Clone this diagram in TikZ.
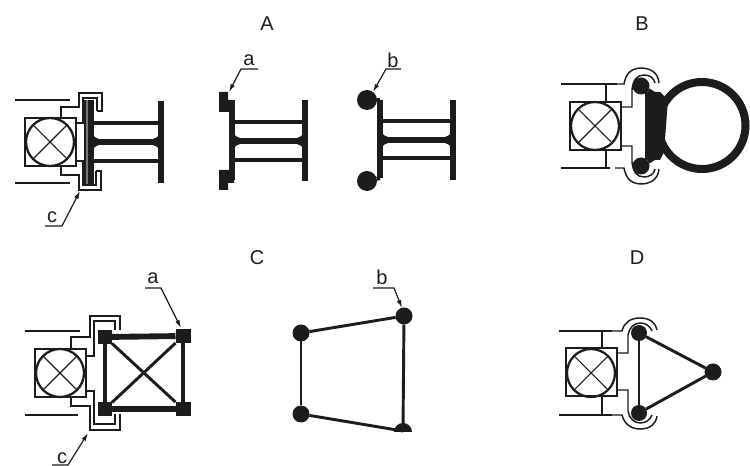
\documentclass[tikz,border=0pt]{standalone}
\usepackage{fontspec}
\setmainfont{Liberation Sans}
\usetikzlibrary{arrows.meta}
\definecolor{ink}{HTML}{1C1C1C}
\tikzset{
  every node/.style={inner sep=0pt,outer sep=0pt},
  px/.style={x=0.75pt,y=-0.75pt},
  thin line/.style={draw=ink,line width=1.1pt},
  hair/.style={draw=ink,line width=0.8pt},
  rail/.style={draw=ink,line width=1.6pt},
  web/.style={draw=ink,line width=2.4pt},
  webthick/.style={draw=ink,line width=4.8pt},
  flange/.style={draw=ink,line width=5pt},
  plate/.style={draw=ink,line width=4.6pt},
  bar/.style={draw=ink,line width=2.2pt},
  arrowleader/.style={draw=ink,line width=0.9pt,-{Latex[length=6pt,width=3.5pt]}},
  ttl/.style={font=\fontsize{15}{15}\selectfont,text=ink},
  tag/.style={font=\fontsize{15}{15}\selectfont,text=ink},
  dot/.style={circle,fill=ink,minimum size=#1*0.75pt},
  sq/.style={rectangle,fill=ink,minimum size=14*0.75pt},
  boxn/.style={rectangle,draw=ink,line width=1.5pt,minimum width=51*0.75pt,minimum height=48*0.75pt},
  bearing/.style={circle,draw=ink,line width=1.7pt,minimum size=48*0.75pt}
}
\newcommand{\crosscircle}[1]{%
  \draw[hair] (#1.45) -- (#1.225) (#1.135) -- (#1.315);
}
% fillets of the thick web at its two ends: left x, right x, web y
\newcommand{\fillets}[3]{%
  \fill[ink] (#1,#3-7) .. controls (#1+1,#3-5) and (#1+3,#3-4) .. (#1+6,#3-3) -- (#1+6,#3+3) .. controls (#1+3,#3+4) and (#1+1,#3+5) .. (#1,#3+7) -- cycle;
  \fill[ink] (#2,#3-7) .. controls (#2-1,#3-5) and (#2-3,#3-4) .. (#2-6,#3-3) -- (#2-6,#3+3) .. controls (#2-3,#3+4) and (#2-1,#3+5) .. (#2,#3+7) -- cycle;
}
\begin{document}
\begin{tikzpicture}[px]
\useasboundingbox (0,0) rectangle (750,466);
% titles
\node[ttl] (ta) at (267,24) {A};
\node[ttl] (tb) at (642,24) {B};
\node[ttl] (tc) at (257,258) {C};
\node[ttl] (td) at (637,258) {D};

% ---------- A left
\draw[rail] (15,100) -- (70,100) (15,183) -- (70,183);
\node[boxn] (b1) at (50.5,142) {};
\node[bearing] (c1) at (50,142) {};
\crosscircle{c1}
\draw[thin line] (61,118) -- (61,107) -- (79,107) -- (79,93) -- (102,93) -- (102,111) -- (97,111);
\draw[thin line] (76,123) -- (83,123) -- (83,98) -- (97,98) -- (97,111);
\draw[thin line] (61,166) -- (61,175) -- (79,175) -- (79,190) -- (101,190) -- (101,171) -- (96,171);
\draw[thin line] (76,161) -- (83,161) -- (83,185) -- (96,185) -- (96,171);
\fill[ink!60] (85,100) rectangle (93,184);
\draw[plate] (91,100) -- (91,184);
\draw[thin line] (85,100) -- (85,184);
\draw[flange] (161,101) -- (161,183);
\draw[web] (92,123) -- (161,123) (92,161) -- (161,161);
\draw[webthick] (92,142) -- (161,142);
\fillets{93}{159}{142}
\node[tag] (lc1) at (52,217) {c};
\coordinate (lc1a) at (45,226);
\coordinate (lc1b) at (62,226);
\coordinate (lc1c) at (80,191);
\draw[arrowleader] (lc1a) -- (lc1b) -- (lc1c);

% ---------- A middle
\draw[plate] (232,100) -- (232,180);
\fill[ink] (219,92) rectangle (228,112) (219,170) rectangle (228,190);
\fill[ink] (228,100) rectangle (234,112) (228,170) rectangle (234,183);
\draw[flange] (305,100) -- (305,181);
\draw[web] (232,122) -- (305,122) (232,160) -- (305,160);
\draw[webthick] (232,141) -- (305,141);
\fillets{234}{303}{141}
\node[tag] (la) at (249,60) {a};
\coordinate (laa) at (258,69);
\coordinate (lab) at (241,69);
\coordinate (lac) at (229,92);
\draw[arrowleader] (laa) -- (lab) -- (lac);

% ---------- A right
\draw[plate] (380,100) -- (380,178);
\node[dot=20] (d1) at (367,100) {};
\node[dot=20] (d2) at (367,181) {};
\draw[draw=ink,line width=3pt] (d1) -- (380,100);
\draw[draw=ink,line width=3pt] (d2) -- (380,178);
\draw[flange] (453,100) -- (453,180);
\draw[web] (380,121) -- (453,121) (380,158) -- (453,158);
\draw[webthick] (380,140) -- (453,140);
\fillets{382}{451}{140}
\node[tag] (lb) at (393,60) {b};
\coordinate (lba) at (401,69);
\coordinate (lbb) at (386,69);
\coordinate (lbc) at (373,92);
\draw[arrowleader] (lba) -- (lbb) -- (lbc);

% ---------- B
\draw[rail] (561,84) -- (617,84) (561,168) -- (610,168);
\node[boxn] (b2) at (595,126) {};
\node[bearing] (c2) at (595,126) {};
\crosscircle{c2}
\draw[thin line] (606,84) -- (606,102) (606,150) -- (606,168);
\draw[thin line] (621,107) -- (632,107) -- (632,90) .. controls (633,80) and (637,75) .. (644,75) .. controls (650,75) and (654,78) .. (655,83);
\draw[thin line] (621,146) -- (632,146) -- (632,162) .. controls (633,172) and (637,177) .. (644,177) .. controls (650,177) and (654,174) .. (655,169);
\draw[thin line] (615,84) -- (624,84) .. controls (626,74) and (630,69) .. (640,68) .. controls (650,68) and (658,72) .. (659,83);
\draw[thin line] (615,168) -- (624,168) .. controls (626,178) and (630,183) .. (640,184) .. controls (650,184) and (658,180) .. (659,169);
\fill[ink] (645,92) -- (660,92) -- (668,100) -- (664,152) -- (660,160) -- (645,160) -- cycle;
\node[dot=17] (d3) at (641,86) {};
\node[dot=17] (d4) at (641,166) {};
\draw[draw=ink,line width=4pt] (d3) -- (656,96);
\draw[draw=ink,line width=4pt] (d4) -- (656,156);
\node[circle,draw=ink,line width=6pt,minimum size=87*0.75pt] (ring) at (702,125.5) {};

% ---------- C left
\draw[rail] (25,331) -- (80,331) (25,415) -- (78,415);
\node[boxn] (b3) at (60.5,373) {};
\node[bearing] (c3) at (60,373) {};
\crosscircle{c3}
\draw[thin line] (71,349) -- (71,337) -- (90,337) -- (90,316) -- (120,316) -- (120,330);
\draw[thin line] (86,356) -- (94,356) -- (94,321) -- (115,321) -- (115,330);
\draw[thin line] (71,397) -- (71,406) -- (90,406) -- (90,430) -- (120,430) -- (120,414);
\draw[thin line] (86,391) -- (94,391) -- (94,424) -- (115,424) -- (115,414);
\node[sq] (q1) at (105,337) {};
\node[sq,minimum width=15*0.75pt] (q2) at (183,336) {};
\node[sq] (q3) at (105,409) {};
\node[sq,minimum width=15*0.75pt] (q4) at (183,409) {};
\draw[draw=ink,line width=4.4pt] (q1) -- (q2);
\draw[draw=ink,line width=4.4pt] (q3) -- (q4);
\draw[draw=ink,line width=3.2pt] (q1) -- (q3);
\draw[draw=ink,line width=3.2pt] (q2) -- (q4);
\draw[bar] (q1) -- (q4);
\draw[bar] (q3) -- (q2);
\node[tag] (lc2) at (153,278) {a};
\coordinate (l2a) at (145,288);
\coordinate (l2b) at (161,288);
\coordinate (l2c) at (181,328);
\draw[arrowleader] (l2a) -- (l2b) -- (l2c);
\node[tag] (lc3) at (62,458) {c};
\coordinate (l3a) at (52,465);
\coordinate (l3b) at (68,465);
\coordinate (l3c) at (88,433);
\draw[arrowleader] (l3a) -- (l3b) -- (l3c);

% ---------- C right
\node[dot=17] (e1) at (301,333) {};
\node[dot=17] (e2) at (301,414) {};
\node[dot=17] (e3) at (404,316) {};
\coordinate (e4) at (403,431);
\fill[ink] (394,432) arc[start angle=180,end angle=360,radius=9] -- cycle;
\draw[bar] (e1) -- (e2);
\draw[bar] (e1) -- (e3);
\draw[bar] (e2) -- (e4);
\draw[bar] (e3) -- (e4);
\node[tag] (lb2) at (382,277) {b};
\coordinate (l4a) at (373,288);
\coordinate (l4b) at (394,288);
\coordinate (l4c) at (402,308);
\draw[arrowleader] (l4a) -- (l4b) -- (l4c);

% ---------- D
\draw[rail] (559,331) -- (612,331) (559,415) -- (612,415);
\node[boxn] (b4) at (591.5,372.5) {};
\node[bearing] (c4) at (591,373) {};
\crosscircle{c4}
\draw[thin line] (602,331) -- (602,349) (602,396) -- (602,415);
\draw[thin line] (617,353) -- (628,353) -- (628,335) .. controls (629,328) and (634,323) .. (640,323) .. controls (646,323) and (650,326) .. (652,331);
\draw[thin line] (617,390) -- (628,390) -- (628,411) .. controls (629,418) and (634,423) .. (640,423) .. controls (646,423) and (650,420) .. (652,415);
\draw[thin line] (612,331) -- (622,331) .. controls (624,323) and (630,318) .. (640,318) .. controls (650,318) and (656,323) .. (657,330);
\draw[thin line] (612,415) -- (622,415) .. controls (624,423) and (630,429) .. (640,429) .. controls (650,429) and (656,424) .. (657,416);
\node[dot=16] (f1) at (639,333) {};
\node[dot=16] (f2) at (639,413) {};
\node[dot=17] (f3) at (713,372) {};
\draw[bar] (f1) -- (f2);
\draw[bar] (f1) -- (f3);
\draw[bar] (f2) -- (f3);
\end{tikzpicture}
\end{document}
